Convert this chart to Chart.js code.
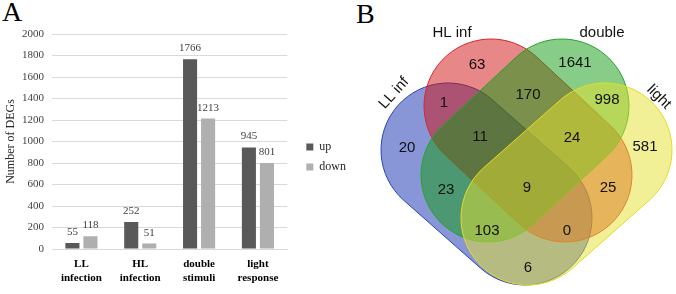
<!DOCTYPE html>
<html>
<head>
<meta charset="utf-8">
<script src="https://cdn.jsdelivr.net/npm/chart.js@4.4.1/dist/chart.umd.min.js"></script>
<style>
  html, body { margin: 0; padding: 0; background: #fff; }
  body { width: 676px; height: 294px; position: relative; overflow: hidden; }
  #bars { position: absolute; left: 0; top: 0; }
  #venn { position: absolute; left: 330px; top: 0; }
  .panel { position: absolute; font-family: "Liberation Serif", serif; font-size: 28px; line-height: 1; color: #000; }
</style>
</head>
<body>
<div class="panel" style="left:2px;top:-2px;">A</div>
<div class="panel" style="left:356px;top:0px;">B</div>
<canvas id="bars" width="350" height="294"></canvas>
<canvas id="venn" width="346" height="294"></canvas>
<script>
// panel A: DEG counts
var categories = [['LL', 'infection'], ['HL', 'infection'], ['double', 'stimuli'], ['light', 'response']];
var seriesNames = ['up', 'down'];
var upValues = [55, 252, 1766, 945];
var downValues = [118, 51, 1213, 801];
var yMax = 2000;
var yStep = 200;

// panel B: venn of the four DEG sets
var setNames = ['LL inf', 'HL inf', 'double', 'light'];
var regionNames = ['LL', 'HL', 'double', 'light', 'LL HL', 'HL double', 'double light',
  'LL HL double', 'HL double light', 'LL double', 'all', 'HL light',
  'LL double light', 'LL HL light', 'LL light'];
var regionCounts = [20, 63, 1641, 581, 1, 170, 998, 11, 24, 23, 9, 25, 103, 0, 6];

// venn layout (pixels inside the venn canvas)
var regionX = [77, 147, 245, 315, 114, 198, 277, 150, 242, 116, 197, 278, 157, 237, 198];
var regionY = [148, 65, 63, 147, 103, 95, 100, 137, 138, 190, 188, 188, 231, 231, 268];
var setLabelX = [64, 122, 272, 329];
var setLabelY = [93, 33, 33, 97];
var setLabelAngle = [-48, 0, 0, 45];
var shapeStart = [[118, 150], [161, 106], [232, 106], [275, 150]];
var shapeEnd = [[195, 218], [235, 175], [158, 175], [198, 218]];
var shapeRadius = 67;
var shapeFill = ['rgba(17,45,175,0.5)', 'rgba(209,15,15,0.5)', 'rgba(15,155,15,0.5)', 'rgba(229,225,45,0.5)'];
var shapeLine = ['#2a43b8', '#d8282a', '#2aa02a', '#e3dc22'];

var serif = '"Liberation Serif", "Times New Roman", serif';
var sans = '"Liberation Sans", Arial, sans-serif';

// value above every bar
var barLabels = {
  id: 'barLabels',
  afterDatasetsDraw: function(chart) {
    var ctx = chart.ctx;
    ctx.save();
    ctx.font = '11px ' + serif;
    ctx.fillStyle = '#404040';
    ctx.textAlign = 'center';
    ctx.textBaseline = 'alphabetic';
    chart.data.datasets.forEach(function(ds, i) {
      chart.getDatasetMeta(i).data.forEach(function(bar, j) {
        ctx.fillText(ds.data[j], bar.x, bar.y - 8);
      });
    });
    ctx.restore();
  }
};

// move the legend block where the original has it
var legendShift = {
  id: 'legendShift',
  afterLayout: function(chart) {
    var l = chart.legend;
    l.left += 11; l.right += 11;
    l.top -= 7; l.bottom -= 7;
  }
};

new Chart(document.getElementById('bars'), {
  type: 'bar',
  data: {
    labels: categories,
    datasets: [
      { label: seriesNames[0], data: upValues, backgroundColor: '#595959' },
      { label: seriesNames[1], data: downValues, backgroundColor: '#afafaf' }
    ]
  },
  options: {
    responsive: false,
    animation: false,
    categoryPercentage: 0.613,
    barPercentage: 0.78,
    layout: { padding: { top: 34, left: 0, right: 5, bottom: 0 } },
    plugins: {
      legend: {
        position: 'right',
        labels: { boxWidth: 7, boxHeight: 7, padding: 8, color: '#262626', font: { family: serif, size: 12 } }
      },
      tooltip: { enabled: false }
    },
    scales: {
      x: {
        grid: { display: false, drawTicks: false },
        border: { display: true, color: '#d9d9d9' },
        ticks: { color: '#000', font: { family: serif, size: 11, weight: 'bold' }, padding: 9, maxRotation: 0, autoSkip: false },
        afterFit: function(s) { s.height = 45; }
      },
      y: {
        min: 0,
        max: yMax,
        ticks: {
          stepSize: yStep, color: '#404040', font: { family: serif, size: 11 }, padding: 8,
          callback: function(v) { return String(v); }
        },
        grid: { color: '#d9d9d9', drawTicks: false },
        border: { display: false },
        title: { display: true, text: 'Number of DEGs', color: '#262626', font: { family: serif, size: 12 }, padding: { top: 4, bottom: 4 } },
        afterFit: function(s) { s.width = 52; }
      }
    }
  },
  plugins: [barLabels, legendShift]
});

// stadium shaped sets, drawn under the count labels
var vennShapes = {
  id: 'vennShapes',
  beforeDatasetsDraw: function(chart) {
    var ctx = chart.ctx, sx = chart.scales.x, sy = chart.scales.y;
    var r = sx.getPixelForValue(shapeRadius) - sx.getPixelForValue(0);
    ctx.save();
    for (var i = 0; i < shapeStart.length; i++) {
      var x1 = sx.getPixelForValue(shapeStart[i][0]), y1 = sy.getPixelForValue(shapeStart[i][1]);
      var x2 = sx.getPixelForValue(shapeEnd[i][0]), y2 = sy.getPixelForValue(shapeEnd[i][1]);
      var a = Math.atan2(y2 - y1, x2 - x1);
      ctx.beginPath();
      ctx.arc(x2, y2, r, a - Math.PI / 2, a + Math.PI / 2);
      ctx.arc(x1, y1, r, a + Math.PI / 2, a + 3 * Math.PI / 2);
      ctx.closePath();
      ctx.fillStyle = shapeFill[i];
      ctx.fill();
      ctx.lineWidth = 1;
      ctx.strokeStyle = shapeLine[i];
      ctx.stroke();
    }
    ctx.restore();
  }
};

var vennText = {
  id: 'vennText',
  afterDatasetsDraw: function(chart) {
    var ctx = chart.ctx;
    ctx.save();
    ctx.font = '15px ' + sans;
    ctx.fillStyle = '#111';
    ctx.textAlign = 'center';
    ctx.textBaseline = 'middle';
    chart.data.datasets.forEach(function(ds, i) {
      chart.getDatasetMeta(i).data.forEach(function(pt, j) {
        ctx.save();
        ctx.translate(pt.x, pt.y);
        ctx.rotate((ds.angles ? ds.angles[j] : 0) * Math.PI / 180);
        ctx.fillText(ds.texts[j], 0, 0);
        ctx.restore();
      });
    });
    ctx.restore();
  }
};

new Chart(document.getElementById('venn'), {
  type: 'scatter',
  data: {
    datasets: [
      {
        label: 'regions',
        texts: regionCounts,
        data: regionCounts.map(function(c, i) { return { x: regionX[i], y: regionY[i] }; }),
        pointRadius: 0
      },
      {
        label: 'sets',
        texts: setNames,
        angles: setLabelAngle,
        data: setNames.map(function(n, i) { return { x: setLabelX[i], y: setLabelY[i] }; }),
        pointRadius: 0
      }
    ]
  },
  options: {
    responsive: false,
    animation: false,
    layout: { padding: 0 },
    plugins: { legend: { display: false }, tooltip: { enabled: false } },
    scales: {
      x: { type: 'linear', min: 0, max: 346, display: false },
      y: { type: 'linear', min: 0, max: 294, reverse: true, display: false }
    }
  },
  plugins: [vennShapes, vennText]
});
</script>
</body>
</html>
